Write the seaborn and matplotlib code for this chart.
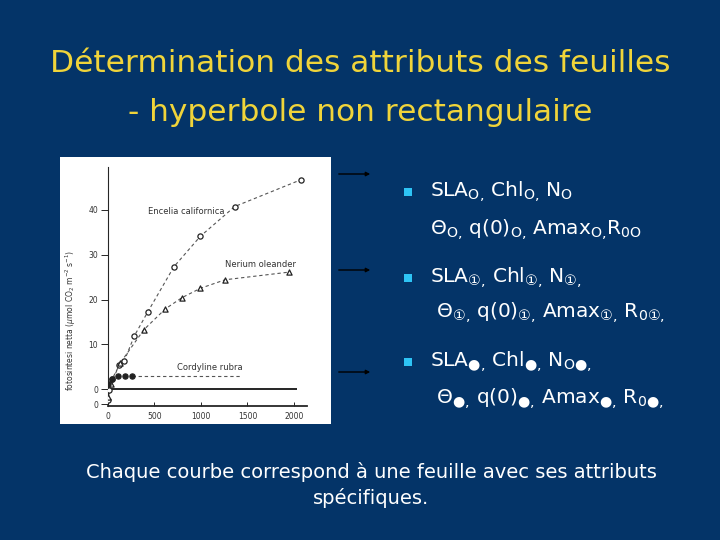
import matplotlib
matplotlib.use("Agg")
import matplotlib.pyplot as plt
import seaborn as sns
import pandas as pd
from matplotlib.patches import Rectangle

# Encelia californica (cercles vides)
encelia_x = [7, 18, 50, 125, 179, 286, 429, 711, 996, 1364, 2079]
encelia_y = [-2.4, -0.1, 2.4, 5.4, 6.4, 11.9, 17.2, 27.3, 34.1, 40.7, 46.7]

# Nerium oleander (triangles vides)
nerium_x = [7, 36, 132, 389, 618, 796, 996, 1261, 1946]
nerium_y = [-1.6, 1.3, 5.8, 13.3, 17.9, 20.4, 22.5, 24.4, 26.1]

# Cordyline rubra (points pleins) + fin du tireté
cordyline_x = [7, 50, 114, 186, 264]
cordyline_y = [1.3, 2.4, 3.0, 3.0, 3.0]
cordyline_tail_x = [264, 1440]
cordyline_tail_y = [3.0, 3.0]

zero_line_x = [0, 2030]

species = ["Encelia californica", "Nerium oleander", "Cordyline rubra"]
xticks = [0, 500, 1000, 1500, 2000]
yticks = [-3.3, 0, 10, 20, 30, 40]
ytick_labels = ["0", "0", "10", "20", "30", "40"]

title_lines = ["Détermination des attributs des feuilles",
               "- hyperbole non rectangulaire"]
bullet_lines = [
    (r"SLA$_{\mathrm{O}{,}}$ Chl$_{\mathrm{O}{,}}$ N$_{\mathrm{O}}$",
     r"Θ$_{\mathrm{O}{,}}$ q(0)$_{\mathrm{O}{,}}$ Amax$_{\mathrm{O}{,}}$R$_{0\mathrm{O}}$"),
    (r"SLA$_{①{,}}$ Chl$_{①{,}}$ N$_{①{,}}$",
     r" Θ$_{①{,}}$ q(0)$_{①{,}}$ Amax$_{①{,}}$ R$_{0①{,}}$"),
    (r"SLA$_{●{,}}$ Chl$_{●{,}}$ N$_{\mathrm{O}●{,}}$",
     r" Θ$_{●{,}}$ q(0)$_{●{,}}$ Amax$_{●{,}}$ R$_{0●{,}}$"),
]
footer_lines = ["Chaque courbe correspond à une feuille avec ses attributs",
                "spécifiques."]

BG = "#043468"
YELLOW = "#F0D43A"
CYAN = "#2EC4F5"
W, H = 720, 540

sns.set_style("ticks")
plt.rcParams['font.family'] = ['DejaVu Sans']


def fx(px):
    return px / W


def fy(py):
    return 1 - py / H


fig = plt.figure(figsize=(7.2, 5.4), dpi=100, facecolor=BG)

# cadre blanc de la figure scannée
fig.patches.append(Rectangle((fx(60), fy(424)), 271 / W, 267 / H,
                             transform=fig.transFigure, facecolor="white",
                             edgecolor="none", zorder=-1))

ax = fig.add_axes([fx(107.7), fy(406), 199.3 / W, 239 / H])
ax.set_facecolor("none")

df = pd.concat([
    pd.DataFrame({"x": encelia_x, "y": encelia_y, "sp": species[0]}),
    pd.DataFrame({"x": nerium_x, "y": nerium_y, "sp": species[1]}),
    pd.DataFrame({"x": cordyline_x, "y": cordyline_y, "sp": species[2]}),
])

ink = "#222222"
markers = {species[0]: "o", species[1]: "^", species[2]: "o"}
faces = {species[0]: "white", species[1]: "white", species[2]: ink}
for sp in species:
    d = df[df["sp"] == sp]
    sns.lineplot(data=d, x="x", y="y", ax=ax, color="#555555", lw=0.8,
                 sort=False, linestyle=(0, (3, 2.5)))
    sns.scatterplot(data=d, x="x", y="y", ax=ax, marker=markers[sp],
                    s=14, facecolor=faces[sp], edgecolor=ink,
                    linewidth=0.9, zorder=3)
sns.lineplot(x=cordyline_tail_x, y=cordyline_tail_y, ax=ax, color="#555555",
             lw=0.8, linestyle=(0, (3, 2.5)))

ax.hlines(0, zero_line_x[0], zero_line_x[1], color="black", lw=1.2)

ax.text(436, 39.5, species[0], fontsize=6, color="#333333", va="center")
ax.text(1264, 27.9, species[1], fontsize=6, color="#333333", va="center")
ax.text(739, 4.8, species[2], fontsize=6, color="#333333", va="center")

ax.set_xlim(0, 2140)
ax.set_ylim(-3.7, 49.5)
ax.set_xticks(xticks)
ax.set_xticklabels([str(t) for t in xticks])
ax.set_yticks(yticks)
ax.set_yticklabels(ytick_labels)
ax.tick_params(axis="x", direction="in", length=3, width=0.7,
               labelsize=5.5, labelcolor="#333333", pad=4)
ax.tick_params(axis="y", direction="out", length=5, width=0.7,
               labelsize=5.5, labelcolor="#333333", pad=2)
ax.set_xlabel("")
ax.set_ylabel(r"fotosintesi netta ($\mu$mol CO$_2$ m$^{-2}$ s$^{-1}$)",
              fontsize=5.5, color="#333333")
ax.yaxis.set_label_coords(-0.15, 0.36)
for side in ["top", "right"]:
    ax.spines[side].set_visible(False)
ax.spines["left"].set_linewidth(0.8)
ax.spines["bottom"].set_linewidth(1.3)

# titre
fig.text(0.5, fy(72), title_lines[0], ha="center", va="baseline",
         fontsize=22.5, color=YELLOW)
fig.text(0.5, fy(121), title_lines[1], ha="center", va="baseline",
         fontsize=22.5, color=YELLOW)

# flèches
for y in [174, 270, 372]:
    fig.add_artist(matplotlib.patches.FancyArrowPatch(
        (fx(336), fy(y)), (fx(373), fy(y)), transform=fig.transFigure,
        arrowstyle="-|>", mutation_scale=6, color="black", lw=1.0))

# puces
bullet_y = [(197, 235), (283, 318), (367, 404)]
for (l1, l2), (y1, y2) in zip(bullet_lines, bullet_y):
    fig.patches.append(Rectangle((fx(404), fy(y1 - 1)), 8 / W, 8 / H,
                                 transform=fig.transFigure, facecolor=CYAN,
                                 edgecolor="none"))
    fig.text(fx(430), fy(y1), l1, fontsize=14.5, color="white", va="baseline")
    fig.text(fx(430), fy(y2), l2, fontsize=14.5, color="white", va="baseline")

fig.text(fx(371), fy(478), footer_lines[0], ha="center", va="baseline",
         fontsize=14, color="white")
fig.text(fx(371), fy(504), footer_lines[1], ha="center", va="baseline",
         fontsize=14, color="white")

fig.savefig("out.png", dpi=100, facecolor=BG)
